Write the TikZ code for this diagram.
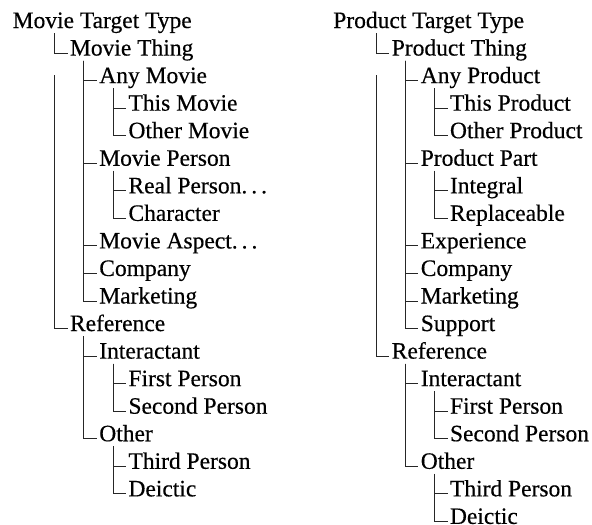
\documentclass[tikz,border=0pt]{standalone}
\usepackage{fontspec}
\setmainfont{Liberation Serif}
\newfontfamily\treefont[FakeBold=0.4]{Liberation Serif}
\usetikzlibrary{calc}
\newcommand\tconn[3]{\draw[conn] let \p1=(#1.base west), \p2=(#2.base west) in (\x2-15.5pt,\y1-#3) |- (\x2-2.5pt,\y2+2.5pt);}
\newcommand\dotsx{.\kern0.17em.\kern0.17em.}
\begin{document}
\begin{tikzpicture}[x=1pt,y=-1pt,
  lbl/.style={anchor=base west,inner sep=0pt,outer sep=0pt,font=\treefont\fontsize{23.5}{28}\selectfont},
  conn/.style={line width=0.9pt,draw=black!85}]
\useasboundingbox (0,0) rectangle (592,525);
% ---------- left tree ----------
\node[lbl] (l0)  at (12.7,28+27.55*0)  {Movie Target Type};
\node[lbl] (l1)  at (70,28+27.55*1)    {Movie Thing};
\node[lbl] (l2)  at (99.3,28+27.55*2)  {Any Movie};
\node[lbl] (l3)  at (128.5,28+27.55*3) {This Movie};
\node[lbl] (l4)  at (128.5,28+27.55*4) {Other Movie};
\node[lbl] (l5)  at (99.3,28+27.55*5)  {Movie Person};
\node[lbl] (l6)  at (128.5,28+27.55*6) {Real Person\dotsx};
\node[lbl] (l7)  at (128.5,28+27.55*7) {Character};
\node[lbl] (l8)  at (99.3,28+27.55*8)  {Movie Aspect\dotsx};
\node[lbl] (l9)  at (99.3,28+27.55*9)  {Company};
\node[lbl] (l10) at (99.3,28+27.55*10) {Marketing};
\node[lbl] (l11) at (70,28+27.55*11)   {Reference};
\node[lbl] (l12) at (99.3,28+27.55*12) {Interactant};
\node[lbl] (l13) at (128.5,28+27.55*13) {First Person};
\node[lbl] (l14) at (128.5,28+27.55*14) {Second Person};
\node[lbl] (l15) at (99.3,28+27.55*15) {Other};
\node[lbl] (l16) at (128.5,28+27.55*16) {Third Person};
\node[lbl] (l17) at (128.5,28+27.55*17) {Deictic};
\tconn{l0}{l1}{5pt}
\tconn{l1}{l2}{5pt}
\tconn{l2}{l3}{5pt}
\tconn{l2}{l4}{5pt}
\tconn{l1}{l5}{5pt}
\tconn{l5}{l6}{5pt}
\tconn{l5}{l7}{5pt}
\tconn{l1}{l8}{5pt}
\tconn{l1}{l9}{5pt}
\tconn{l1}{l10}{5pt}
\tconn{l0}{l11}{47pt}
\tconn{l11}{l12}{5pt}
\tconn{l12}{l13}{5pt}
\tconn{l12}{l14}{5pt}
\tconn{l11}{l15}{5pt}
\tconn{l15}{l16}{5pt}
\tconn{l15}{l17}{5pt}
% ---------- right tree ----------
\node[lbl] (r0)  at (333.3,28+27.55*0) {Product Target Type};
\node[lbl] (r1)  at (391.8,28+27.55*1) {Product Thing};
\node[lbl] (r2)  at (420.8,28+27.55*2) {Any Product};
\node[lbl] (r3)  at (450,28+27.55*3)   {This Product};
\node[lbl] (r4)  at (450,28+27.55*4)   {Other Product};
\node[lbl] (r5)  at (420.8,28+27.55*5) {Product Part};
\node[lbl] (r6)  at (450,28+27.55*6)   {Integral};
\node[lbl] (r7)  at (450,28+27.55*7)   {Replaceable};
\node[lbl] (r8)  at (420.8,28+27.55*8) {Experience};
\node[lbl] (r9)  at (420.8,28+27.55*9) {Company};
\node[lbl] (r10) at (420.8,28+27.55*10) {Marketing};
\node[lbl] (r11) at (420.8,28+27.55*11) {Support};
\node[lbl] (r12) at (391.8,28+27.55*12) {Reference};
\node[lbl] (r13) at (420.8,28+27.55*13) {Interactant};
\node[lbl] (r14) at (450,28+27.55*14)  {First Person};
\node[lbl] (r15) at (450,28+27.55*15)  {Second Person};
\node[lbl] (r16) at (420.8,28+27.55*16) {Other};
\node[lbl] (r17) at (450,28+27.55*17)  {Third Person};
\node[lbl] (r18) at (450,28+27.55*18)  {Deictic};
\tconn{r0}{r1}{5pt}
\tconn{r1}{r2}{5pt}
\tconn{r2}{r3}{5pt}
\tconn{r2}{r4}{5pt}
\tconn{r1}{r5}{5pt}
\tconn{r5}{r6}{5pt}
\tconn{r5}{r7}{5pt}
\tconn{r1}{r8}{5pt}
\tconn{r1}{r9}{5pt}
\tconn{r1}{r10}{5pt}
\tconn{r1}{r11}{5pt}
\tconn{r0}{r12}{47pt}
\tconn{r12}{r13}{5pt}
\tconn{r13}{r14}{5pt}
\tconn{r13}{r15}{5pt}
\tconn{r12}{r16}{5pt}
\tconn{r16}{r17}{5pt}
\tconn{r16}{r18}{5pt}
\end{tikzpicture}
\end{document}
